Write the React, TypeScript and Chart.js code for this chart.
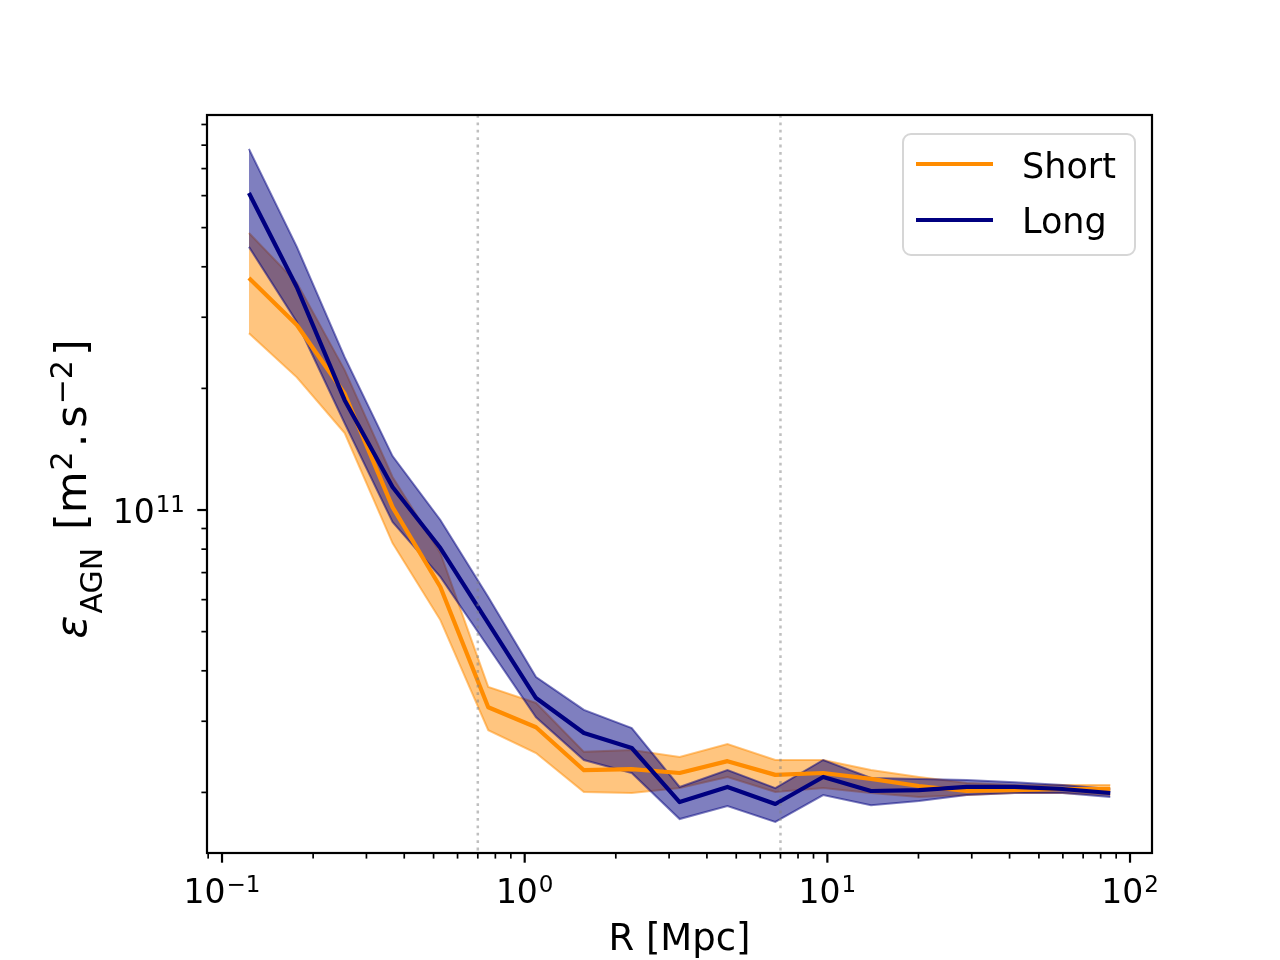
import { useEffect, useRef } from 'react';
import Chart from 'chart.js/auto';

// radial bins [Mpc]
const radius = [0.1227, 0.1767, 0.2542, 0.3659, 0.5265, 0.7578, 1.090, 1.569, 2.258, 3.250, 4.677, 6.731, 9.687, 13.94, 20.06, 28.87, 41.55, 59.80, 86.06];

// Short: median and band
const shortMid = [3.75e11, 2.87e11, 1.94e11, 1.017e11, 6.45e10, 3.25e10, 2.90e10, 2.27e10, 2.285e10, 2.234e10, 2.39e10, 2.21e10, 2.234e10, 2.16e10, 2.074e10, 2.016e10, 2.027e10, 2.039e10, 2.039e10];
const shortHigh = [4.85e11, 3.65e11, 2.22e11, 1.207e11, 7.83e10, 3.65e10, 3.33e10, 2.52e10, 2.546e10, 2.446e10, 2.635e10, 2.406e10, 2.406e10, 2.272e10, 2.184e10, 2.11e10, 2.086e10, 2.086e10, 2.086e10];
const shortLow = [2.74e11, 2.13e11, 1.55e11, 8.28e10, 5.34e10, 2.85e10, 2.503e10, 2.005e10, 1.993e10, 2.05e10, 2.184e10, 2.005e10, 2.05e10, 1.993e10, 1.948e10, 1.97e10, 1.993e10, 1.993e10, 1.97e10];

// Long: median and band
const longMid = [6.09e11, 3.56e11, 1.87e11, 1.14e11, 8.05e10, 5.25e10, 3.425e10, 2.805e10, 2.576e10, 1.893e10, 2.063e10, 1.872e10, 2.184e10, 2.016e10, 2.027e10, 2.063e10, 2.063e10, 2.039e10, 1.993e10];
const longHigh = [7.83e11, 4.48e11, 2.39e11, 1.36e11, 9.45e10, 6.09e10, 3.86e10, 3.20e10, 2.886e10, 2.063e10, 2.272e10, 2.05e10, 2.406e10, 2.171e10, 2.16e10, 2.146e10, 2.12e10, 2.086e10, 2.039e10];
const longLow = [4.48e11, 2.92e11, 1.64e11, 9.34e10, 6.83e10, 4.58e10, 3.07e10, 2.406e10, 2.234e10, 1.718e10, 1.85e10, 1.69e10, 1.97e10, 1.86e10, 1.904e10, 1.97e10, 1.993e10, 1.993e10, 1.948e10];

// vertical dotted markers
const markerR = [0.7, 7];

// axes
const xRange = [0.0892, 118.2];
const yRange = [1.416e10, 9.5e11];
const xMajor = [0.1, 1, 10, 100];
const xMajorExp = ['\u22121', '0', '1', '2'];
const yMajor = [1e11];
const yMajorExp = ['11'];
const decades = [1e-2, 1e-1, 1, 10, 100, 1e10, 1e11, 1e12];
const minorMult = [2, 3, 4, 5, 6, 7, 8, 9];

const legendNames = ['Short', 'Long'];
const ORANGE = '#ff8c00';
const NAVY = '#000080';
const FONT = "'DejaVu Sans', sans-serif";

const pts = (ys: number[]) => radius.map((r, i) => ({ x: r, y: ys[i] }));

const drawPow = (ctx, exp: string, x: number, baseline: number, align: string) => {
  ctx.font = `33px ${FONT}`;
  const wb = ctx.measureText('10').width;
  ctx.font = `23px ${FONT}`;
  const we = ctx.measureText(exp).width;
  const total = wb + we + 1;
  const left = align === 'center' ? x - total / 2 : x - total;
  ctx.textAlign = 'left';
  ctx.textBaseline = 'alphabetic';
  ctx.font = `33px ${FONT}`;
  ctx.fillText('10', left, baseline);
  ctx.font = `23px ${FONT}`;
  ctx.fillText(exp, left + wb + 1, baseline - 11);
};

const decorPlugin = {
  id: 'decor',
  afterDraw(chart) {
    const { ctx, chartArea: a } = chart;
    const xs = chart.scales.x;
    const ys = chart.scales.y;
    ctx.save();

    // dotted markers
    ctx.strokeStyle = 'rgba(128,128,128,0.5)';
    ctx.lineWidth = 2.5;
    ctx.setLineDash([2.8, 4.6]);
    markerR.forEach((r) => {
      const px = xs.getPixelForValue(r);
      ctx.beginPath();
      ctx.moveTo(px, a.top);
      ctx.lineTo(px, a.bottom);
      ctx.stroke();
    });
    ctx.setLineDash([]);

    // frame
    ctx.strokeStyle = '#000';
    ctx.lineWidth = 2.2;
    ctx.strokeRect(a.left, a.top, a.right - a.left, a.bottom - a.top);

    // ticks
    const tick = (x1, y1, x2, y2, w) => {
      ctx.lineWidth = w;
      ctx.beginPath();
      ctx.moveTo(x1, y1);
      ctx.lineTo(x2, y2);
      ctx.stroke();
    };
    decades.forEach((d) => {
      minorMult.forEach((m) => {
        const v = d * m;
        if (v >= xRange[0] && v <= xRange[1]) {
          const px = xs.getPixelForValue(v);
          tick(px, a.bottom, px, a.bottom + 5.6, 1.7);
        }
        if (v >= yRange[0] && v <= yRange[1]) {
          const py = ys.getPixelForValue(v);
          tick(a.left, py, a.left - 5.6, py, 1.7);
        }
      });
    });
    ctx.fillStyle = '#000';
    xMajor.forEach((v, i) => {
      const px = xs.getPixelForValue(v);
      tick(px, a.bottom, px, a.bottom + 9.7, 2.2);
      drawPow(ctx, xMajorExp[i], px, 903, 'center');
    });
    yMajor.forEach((v, i) => {
      const py = ys.getPixelForValue(v);
      tick(a.left, py, a.left - 9.7, py, 2.2);
      drawPow(ctx, yMajorExp[i], 185, py + 13, 'right');
    });

    // x label
    ctx.font = `37px ${FONT}`;
    ctx.textAlign = 'center';
    ctx.textBaseline = 'alphabetic';
    ctx.fillText('R [Mpc]', (a.left + a.right) / 2, 950);

    // y label, rotated
    const parts = [
      { t: '\u03b5', f: `italic 43px ${FONT}`, dy: 0, gap: 2 },
      { t: 'AGN', f: `30px ${FONT}`, dy: 16, gap: 4 },
      { t: ' [m', f: `43px ${FONT}`, dy: 0, gap: 1 },
      { t: '2', f: `30px ${FONT}`, dy: -14, gap: 4 },
      { t: '.', f: `43px ${FONT}`, dy: 0, gap: 6 },
      { t: 's', f: `43px ${FONT}`, dy: 0, gap: 1 },
      { t: '\u22122', f: `30px ${FONT}`, dy: -14, gap: 4 },
      { t: ']', f: `43px ${FONT}`, dy: 0, gap: 0 },
    ];
    let total = 0;
    const widths = parts.map((p) => {
      ctx.font = p.f;
      const w = ctx.measureText(p.t).width + p.gap;
      total += w;
      return w;
    });
    ctx.save();
    ctx.translate(86, 489);
    ctx.rotate(-Math.PI / 2);
    ctx.textAlign = 'left';
    let cx = -total / 2;
    parts.forEach((p, i) => {
      ctx.font = p.f;
      ctx.fillText(p.t, cx, p.dy);
      cx += widths[i];
    });
    ctx.restore();

    // legend
    const lx = 903, ly = 134, lw = 232, lh = 121, rr = 8;
    ctx.fillStyle = 'rgba(255,255,255,0.8)';
    ctx.strokeStyle = 'rgba(204,204,204,0.8)';
    ctx.lineWidth = 2;
    ctx.beginPath();
    ctx.roundRect(lx, ly, lw, lh, rr);
    ctx.fill();
    ctx.stroke();
    const colors = [ORANGE, NAVY];
    const rowY = [164, 220];
    const textY = [178, 233];
    legendNames.forEach((name, i) => {
      ctx.strokeStyle = colors[i];
      ctx.lineWidth = 4.2;
      ctx.beginPath();
      ctx.moveTo(916, rowY[i]);
      ctx.lineTo(993, rowY[i]);
      ctx.stroke();
      ctx.fillStyle = '#000';
      ctx.font = `35px ${FONT}`;
      ctx.textAlign = 'left';
      ctx.fillText(name, 1022, textY[i]);
    });

    ctx.restore();
  },
};

const App = () => {
  const canvasRef = useRef(null);

  useEffect(() => {
    const canvas = canvasRef.current;
    if (!canvas) return;

    const band = (ys, color, edge, fill, order) => ({
      label: '',
      data: pts(ys),
      borderColor: edge,
      borderWidth: 2,
      backgroundColor: color,
      fill: fill,
      pointRadius: 0,
      order: order,
    });

    const chart = new Chart(canvas, {
      type: 'line',
      data: {
        datasets: [
          { label: legendNames[0], data: pts(shortMid), borderColor: ORANGE, borderWidth: 4.2, pointRadius: 0, fill: false, order: 2, borderJoinStyle: 'round' },
          { label: legendNames[1], data: pts(longMid), borderColor: NAVY, borderWidth: 4.2, pointRadius: 0, fill: false, order: 1, borderJoinStyle: 'round' },
          band(shortHigh, 'rgba(255,140,0,0.5)', 'rgba(255,140,0,0.5)', 3, 6),
          band(shortLow, 'rgba(255,140,0,0.5)', 'rgba(255,140,0,0.5)', false, 5),
          band(longHigh, 'rgba(0,0,128,0.5)', 'rgba(0,0,128,0.5)', 5, 4),
          band(longLow, 'rgba(0,0,128,0.5)', 'rgba(0,0,128,0.5)', false, 3),
        ],
      },
      options: {
        animation: false,
        responsive: false,
        devicePixelRatio: 1,
        layout: { padding: { left: 0, top: 115, right: 128, bottom: 0 } },
        plugins: {
          legend: { display: false },
          tooltip: { enabled: false },
        },
        elements: { line: { tension: 0 } },
        scales: {
          x: {
            type: 'logarithmic',
            min: xRange[0],
            max: xRange[1],
            bounds: 'data',
            ticks: { display: false },
            grid: { display: false },
            border: { display: false },
            afterFit: (s) => { s.height = 107; },
          },
          y: {
            type: 'logarithmic',
            min: yRange[0],
            max: yRange[1],
            bounds: 'data',
            ticks: { display: false },
            grid: { display: false },
            border: { display: false },
            afterFit: (s) => { s.width = 207; },
          },
        },
      },
      plugins: [decorPlugin],
    });

    return () => {
      chart.destroy();
    };
  }, []);

  return (
    <div style={{ position: 'absolute', left: 0, top: 0, width: 1280, height: 960, background: '#fff' }}>
      <canvas ref={canvasRef} width={1280} height={960} style={{ width: 1280, height: 960 }}></canvas>
    </div>
  );
};

export default App;
